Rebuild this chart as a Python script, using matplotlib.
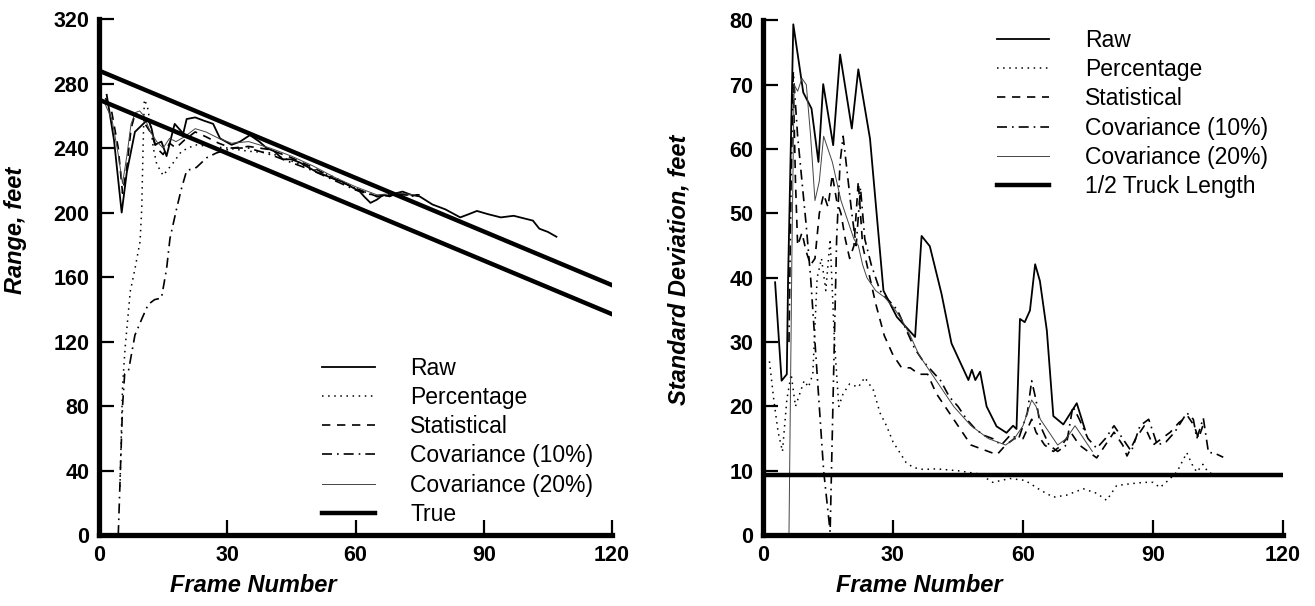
import matplotlib.pyplot as plt

plt.rcParams['font.family'] = ['Liberation Sans', 'DejaVu Sans']

# ---- left panel: range estimates ----
raw_f = [1.8, 3.5, 5.3, 6.5, 8.4, 11.5, 12.3, 13.1, 14.6, 15.8, 17.4, 17.7, 19.7, 20.5, 22.5,
         24.5, 26.7, 28.3, 31.0, 33.0, 35.3, 37.5, 39.2, 41.0, 43.0, 45.0, 47.0, 49.0, 51.0,
         53.0, 54.8, 57.0, 59.0, 61.0, 62.0, 63.5, 65.0, 66.5, 68.0, 69.5, 71.0, 73.0, 75.0,
         78.0, 81.0, 84.5, 86.5, 88.4, 91.0, 94.0, 97.0, 100.0, 101.5, 103.0, 105.0, 107.0]
raw_v = [273, 245, 200, 225, 250, 258, 252, 242, 244, 235, 252, 255, 249, 258, 259,
         257, 255, 246, 242, 244, 248, 244, 240, 238, 233, 233, 231, 228, 225,
         223, 221, 219, 216, 213, 210, 206, 208, 211, 210, 212, 213, 211, 210,
         205, 202, 197, 199, 201, 199, 197, 198, 196, 195, 190, 188, 185]

pct_f = [4.9, 5.5, 6.1, 7.3, 8.4, 9.6, 10.0, 10.3, 10.6, 11.3, 12.0, 12.7, 13.5, 15.0, 17.4,
         19.3, 22.5, 26.0, 30.0, 35.0, 40.0, 45.0, 50.0, 55.0, 60.0, 65.0, 70.0, 74.0]
pct_v = [30, 92, 116, 151, 165, 182, 203, 240, 270, 266, 255, 240, 230, 223, 231,
         238, 242, 241, 240, 238, 237, 232, 227, 222, 215, 210, 212, 210]

stat_f = [1.5, 3.0, 4.5, 5.5, 6.5, 7.5, 8.5, 10.0, 12.0, 13.5, 15.0, 16.5, 18.0, 20.0, 22.5,
          25.0, 28.0, 31.0, 35.0, 40.0, 45.0, 50.0, 55.0, 60.0, 65.0, 70.0, 75.0]
stat_v = [271, 262, 240, 212, 228, 252, 262, 258, 250, 240, 236, 243, 240, 245, 250,
          247, 243, 240, 241, 239, 234, 228, 221, 215, 210, 211, 211]

c10_f = [4.5, 5.0, 5.5, 6.0, 6.9, 8.4, 10.0, 11.5, 13.0, 14.6, 15.8, 16.6, 18.2, 19.3, 20.5,
         22.8, 25.2, 27.5, 31.4, 35.0, 40.0, 45.0, 50.0, 55.0, 60.0, 65.0, 70.0, 74.0]
c10_v = [0, 40, 80, 100, 102, 124, 134, 143, 146, 147, 165, 184, 203, 215, 226,
         228, 234, 237, 240, 240, 236, 231, 226, 220, 214, 210, 212, 210]

c20_f = [1.3, 3.0, 4.5, 5.5, 6.5, 7.5, 8.5, 9.5, 10.5, 12.0, 13.5, 15.0, 16.5, 18.0, 20.0,
         22.5, 25.0, 28.0, 31.0, 35.0, 40.0, 45.0, 50.0, 55.0, 60.0, 65.0, 70.0, 74.0]
c20_v = [268, 258, 236, 218, 235, 255, 262, 263, 260, 250, 244, 240, 246, 244, 247,
         252, 250, 246, 243, 244, 240, 235, 229, 222, 216, 211, 212, 211]

true_f = [0, 120]
true_front = [288, 155]
true_back = [270, 137]

# ---- right panel: standard deviation ----
sraw_f = [2.8, 4.3, 5.5, 5.8, 7.0, 9.3, 11.2, 12.8, 13.9, 16.2, 17.8, 20.5, 22.0, 24.7, 27.8,
          30.9, 35.1, 36.6, 38.5, 41.2, 43.5, 47.4, 48.2, 49.0, 50.1, 51.6, 53.9, 56.2, 57.7,
          58.5, 59.3, 60.4, 61.6, 62.8, 63.9, 65.5, 67.0, 69.3, 72.4, 74.3]
sraw_v = [39.3, 24.0, 25.0, 40.0, 79.4, 68.8, 66.3, 58.0, 70.1, 60.6, 74.7, 63.2, 72.4, 61.6, 38.0,
          33.9, 30.8, 46.5, 44.9, 37.5, 29.8, 24.1, 25.7, 24.1, 25.4, 20.0, 16.9, 15.9, 17.0,
          16.5, 33.6, 33.1, 34.9, 42.1, 39.5, 31.8, 18.5, 17.2, 20.5, 16.4]

spct_f = [1.5, 2.5, 3.5, 4.5, 5.5, 6.5, 7.5, 8.5, 9.5, 10.5, 11.5, 12.5, 13.5, 14.5, 15.5,
          16.5, 17.5, 18.5, 20.0, 22.0, 23.5, 25.5, 27.0, 28.5, 30.0, 31.6, 33.0, 34.7, 37.0,
          40.0, 45.0, 50.0, 53.0, 57.0, 60.5, 64.0, 67.0, 70.0, 73.9, 77.0, 79.3, 81.6, 85.0,
          88.0, 90.0, 91.6, 93.5, 95.5, 97.8, 99.0, 100.1, 101.5, 102.8, 104.0]
spct_v = [27, 21, 16, 13, 21, 25, 20, 22, 24, 23, 25, 40, 43, 38, 46,
          30, 20, 22, 23.5, 23, 24.5, 22.5, 19, 17, 14.5, 12.8, 11.3, 10.5, 10.2,
          10.3, 10.0, 9.5, 8.2, 8.8, 8.5, 7.0, 5.9, 6.2, 7.2, 6.5, 5.4, 7.7, 8.0,
          8.2, 8.2, 7.4, 8.5, 9.8, 12.8, 11.0, 9.8, 11.0, 9.7, 9.5]

sstat_f = [7.0, 7.5, 8.0, 9.0, 10.0, 11.0, 12.0, 13.0, 14.0, 15.0, 16.0, 17.0, 18.0, 19.0, 20.0,
           21.0, 22.0, 23.0, 24.0, 26.0, 28.0, 30.0, 32.0, 34.0, 36.0, 38.0, 40.0, 42.0, 44.0,
           46.0, 48.0, 50.0, 52.0, 54.0, 56.0, 58.0, 60.0, 62.0, 63.0, 65.0, 67.0, 69.0, 71.0,
           73.0, 75.0, 77.0, 79.0, 81.0, 83.0, 84.0, 86.0, 88.0, 90.0, 92.0, 94.0, 96.0, 98.0,
           99.5, 100.5, 101.5]
sstat_v = [70, 55, 45, 47, 44, 42, 43, 50, 53, 51, 56, 52, 50, 46, 43,
           45, 55, 45, 42, 36, 31, 28, 26, 26, 25, 25, 22, 20, 18,
           16, 14, 13.5, 13, 12.5, 14, 15, 15, 18, 16, 14, 13, 14, 16,
           14, 13, 12, 14, 16, 14, 12.3, 15, 17, 14, 15, 16, 17.5, 18.5,
           17, 15, 17]

sc10_f = [6.0, 6.5, 7.0, 8.0, 9.0, 10.0, 11.0, 12.0, 13.0, 14.0, 15.5, 16.3, 17.0, 17.8, 18.5,
          19.5, 20.5, 21.5, 22.5, 23.5, 25.0, 27.0, 29.0, 31.0, 33.0, 35.0, 37.0, 39.0, 41.0,
          43.0, 45.0, 47.0, 49.0, 51.0, 53.0, 55.0, 57.0, 59.0, 61.0, 62.0, 63.0, 64.0, 66.0,
          68.0, 70.0, 71.5, 73.0, 75.0, 77.0, 79.0, 81.0, 83.0, 85.0, 87.0, 89.0, 91.0, 93.0,
          95.0, 97.8, 99.3, 100.1, 101.6, 102.8, 104.0, 106.2]
sc10_v = [30, 55, 72, 62, 55, 48, 40, 30, 20, 10, 0.5, 25, 46, 58, 62,
          56, 50, 45, 54, 46, 42, 38, 36.5, 35, 32, 29, 27, 25.5, 24,
          21.5, 20, 18, 16.5, 15.5, 15, 14, 15.5, 15, 19, 24, 21, 17, 14,
          13, 14, 20, 18, 15, 13.5, 15, 17, 15, 13, 17, 18, 14, 14.5,
          16, 19, 18, 15, 18.2, 12.8, 12.8, 12.1]

sc20_f = [6.0, 6.7, 7.2, 8.0, 9.0, 10.0, 11.0, 12.0, 13.0, 14.0, 15.0, 16.0, 17.0, 18.0, 19.0,
          20.0, 21.0, 22.0, 23.0, 24.0, 26.0, 28.0, 30.0, 32.0, 34.0, 36.0, 38.0, 40.0, 42.0,
          44.0, 46.0, 48.0, 50.0, 52.0, 54.0, 56.0, 58.0, 60.0, 62.0, 63.0, 64.0, 66.0, 68.0,
          70.0, 72.0, 74.0, 76.0]
sc20_v = [0, 45, 70, 69, 71, 70, 62, 52, 55, 62, 60, 58, 55, 52, 50,
          48, 46, 45, 42, 40, 38, 37, 35.5, 33.5, 31, 28, 26, 24, 22,
          20, 18.5, 17, 16, 15, 14.5, 14, 15, 17, 21, 20, 18, 16, 14,
          15, 17, 15, 13]

half_truck = 9.4

fig = plt.figure(figsize=(13.15, 6.06), dpi=100)
ax1 = fig.add_axes([0.0753, 0.117, 0.3901, 0.8516])
ax2 = fig.add_axes([0.5802, 0.117, 0.3955, 0.8493])

lab_font = dict(fontsize=17, fontweight='bold', fontstyle='italic')
leg_kw = dict(frameon=False, fontsize=16.5, handlelength=2.3, handletextpad=1.55,
              labelspacing=0.27, borderpad=0, borderaxespad=0, loc='upper left',
              bbox_transform=fig.transFigure)


def style_axes(ax, ymax, ystep):
    ax.set_xlim(0, 120)
    ax.set_ylim(0, ymax)
    for s in ['top', 'right']:
        ax.spines[s].set_visible(False)
    for s in ['left', 'bottom']:
        ax.spines[s].set_linewidth(3.8)
    ax.set_xticks(range(0, 121, 30))
    ax.set_yticks(range(0, ymax + 1, ystep))
    ax.tick_params(direction='in', length=11, width=1.6, pad=7, labelsize=15.5)
    for t in ax.get_xticklabels() + ax.get_yticklabels():
        t.set_fontweight('bold')
    ax.set_xlabel('Frame Number', **lab_font)
    ax.xaxis.set_label_coords(0.30, -0.075)


# left
ax1.plot(raw_f, raw_v, color='black', lw=1.3, label='Raw')
ax1.plot(pct_f, pct_v, color='black', lw=1.1, ls=(0, (1, 3)), label='Percentage')
ax1.plot(stat_f, stat_v, color='black', lw=1.2, ls=(0, (5, 4)), label='Statistical')
ax1.plot(c10_f, c10_v, color='black', lw=1.2, ls=(0, (6, 3, 1, 3)), label='Covariance (10%)')
ax1.plot(c20_f, c20_v, color='#444444', lw=0.7, label='Covariance (20%)')
ax1.plot(true_f, true_front, color='black', lw=3.2, label='True')
ax1.plot(true_f, true_back, color='black', lw=3.2)
style_axes(ax1, 320, 40)
ax1.set_ylabel('Range, feet', **lab_font)
ax1.yaxis.set_label_coords(-0.14, 0.59)
ax1.legend(bbox_to_anchor=(0.245, 0.411), **leg_kw)

# right
ax2.plot(sraw_f, sraw_v, color='black', lw=1.3, label='Raw')
ax2.plot(spct_f, spct_v, color='black', lw=1.1, ls=(0, (1, 3)), label='Percentage')
ax2.plot(sstat_f, sstat_v, color='black', lw=1.2, ls=(0, (5, 4)), label='Statistical')
ax2.plot(sc10_f, sc10_v, color='black', lw=1.2, ls=(0, (6, 3, 1, 3)), label='Covariance (10%)')
ax2.plot(sc20_f, sc20_v, color='#444444', lw=0.7, label='Covariance (20%)')
ax2.axhline(half_truck, color='black', lw=3.2, label='1/2 Truck Length')
style_axes(ax2, 80, 10)
ax2.set_ylabel('Standard Deviation, feet', **lab_font)
ax2.yaxis.set_label_coords(-0.14, 0.515)
ax2.legend(bbox_to_anchor=(0.758, 0.952), **leg_kw)

fig.savefig('out.png', dpi=100)
